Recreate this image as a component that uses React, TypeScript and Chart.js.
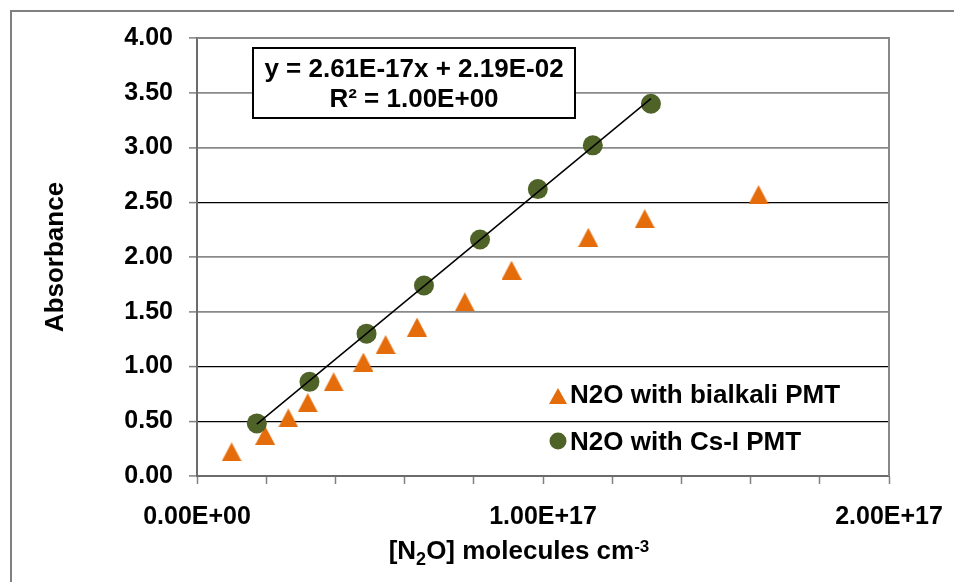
import React, { useEffect, useRef } from 'react';
import { Chart, registerables } from 'chart.js';

Chart.register(...registerables);

// ---- data ----
const bialkaliX = [1.0e16, 1.97e16, 2.64e16, 3.2e16, 3.95e16, 4.81e16, 5.45e16, 6.36e16, 7.74e16, 9.09e16, 1.131e17, 1.294e17, 1.623e17];
const bialkaliY = [0.22, 0.37, 0.53, 0.67, 0.86, 1.04, 1.2, 1.36, 1.59, 1.88, 2.18, 2.35, 2.57];
const csiX = [1.73e16, 3.25e16, 4.9e16, 6.56e16, 8.18e16, 9.85e16, 1.144e17, 1.312e17];
const csiY = [0.48, 0.86, 1.3, 1.74, 2.16, 2.62, 3.02, 3.4];
const seriesLabels = ['N2O with bialkali PMT', 'N2O with Cs-I PMT'];
const trendSlope = 2.61e-17;
const trendIntercept = 2.19e-2;
const equationLines = ['y = 2.61E-17x + 2.19E-02', 'R\u00B2 = 1.00E+00'];
const yTitle = 'Absorbance';
const xTitleParts: [string, 'n' | 'sub' | 'sup'][] = [['[N', 'n'], ['2', 'sub'], ['O] molecules cm', 'n'], ['-3', 'sup']];
const xMin = 0, xMax = 2e17, xStep = 2e16, xLabelStep = 1e17;
const yMin = 0, yMax = 4, yStep = 0.5;
const darkGridValues = [0.5, 1.0, 2.5];

// ---- style ----
const ORANGE = '#E46C0A';
const GREEN = '#4F6228';
const FAMILY = "'Liberation Sans', Arial, sans-serif";

function sci(v: number): string {
  if (v === 0) return '0.00E+00';
  const e = Math.floor(Math.log10(Math.abs(v)) + 1e-9);
  const m = v / Math.pow(10, e);
  return m.toFixed(2) + 'E' + (e >= 0 ? '+' : '-') + String(Math.abs(e)).padStart(2, '0');
}

function makeTriangle(w: number, h: number, color: string) {
  const c = document.createElement('canvas');
  c.width = w;
  c.height = h;
  const g = c.getContext('2d')!;
  g.fillStyle = color;
  g.beginPath();
  g.moveTo(w / 2, 0);
  g.lineTo(w, h);
  g.lineTo(0, h);
  g.closePath();
  g.fill();
  return c;
}

export default function App() {
  const ref = useRef<HTMLCanvasElement>(null);

  useEffect(() => {
    const canvas = ref.current!;
    const tri = makeTriangle(20, 19, ORANGE);
    const triSmall = makeTriangle(18, 16, ORANGE);
    const trendX = [Math.min(...csiX), Math.max(...csiX)];

    const decor = {
      id: 'decor',
      beforeDraw(chart: any) {
        const ctx = chart.ctx;
        ctx.save();
        ctx.strokeStyle = '#808080';
        ctx.lineWidth = 2;
        ctx.strokeRect(11, 11, 2000, 2000);
        ctx.restore();
      },
      beforeDatasetsDraw(chart: any) {
        const { ctx, chartArea: a } = chart;
        ctx.save();
        ctx.strokeStyle = '#888888';
        ctx.lineWidth = 2;
        ctx.beginPath();
        ctx.moveTo(a.left, a.top);
        ctx.lineTo(a.right, a.top);
        ctx.lineTo(a.right, a.bottom);
        ctx.stroke();
        ctx.restore();
      },
      afterDatasetsDraw(chart: any) {
        const ctx = chart.ctx;
        ctx.save();
        // equation box
        ctx.fillStyle = '#fff';
        ctx.fillRect(253, 48, 322, 70);
        ctx.strokeStyle = '#000';
        ctx.lineWidth = 2;
        ctx.strokeRect(253, 48, 322, 70);
        ctx.fillStyle = '#000';
        ctx.font = `bold 26px ${FAMILY}`;
        ctx.textAlign = 'center';
        ctx.textBaseline = 'alphabetic';
        ctx.fillText(equationLines[0], 414, 77);
        ctx.fillText(equationLines[1], 414, 107);

        // legend
        ctx.drawImage(triSmall, 558 - 9, 396 - 8);
        ctx.fillStyle = GREEN;
        ctx.beginPath();
        ctx.arc(558, 441, 8.5, 0, Math.PI * 2);
        ctx.fill();
        ctx.fillStyle = '#000';
        ctx.textAlign = 'left';
        ctx.fillText(seriesLabels[0], 570, 403);
        ctx.fillText(seriesLabels[1], 570, 450);

        // x title with sub/superscript
        const fonts: Record<string, string> = {
          n: `bold 26px ${FAMILY}`,
          sub: `bold 18px ${FAMILY}`,
          sup: `bold 17px ${FAMILY}`,
        };
        const shift: Record<string, number> = { n: 0, sub: 6, sup: -7 };
        let total = 0;
        const widths = xTitleParts.map(([t, k]) => {
          ctx.font = fonts[k];
          const w = ctx.measureText(t).width;
          total += w;
          return w;
        });
        let x = 519 - total / 2;
        const base = 559;
        xTitleParts.forEach(([t, k], i) => {
          ctx.font = fonts[k];
          ctx.fillText(t, x, base + shift[k]);
          x += widths[i];
        });
        ctx.restore();
      },
    };

    const tickFont = { family: FAMILY, size: 25, weight: 'bold' as const };

    const chart = new Chart(canvas, {
      type: 'scatter',
      data: {
        datasets: [
          {
            label: 'Linear fit',
            data: trendX.map((x) => ({ x, y: trendSlope * x + trendIntercept })),
            showLine: true,
            borderColor: '#000',
            borderWidth: 1.5,
            pointRadius: 0,
            order: 0,
          },
          {
            label: seriesLabels[1],
            data: csiX.map((x, i) => ({ x, y: csiY[i] })),
            pointStyle: 'circle',
            pointRadius: 10,
            backgroundColor: GREEN,
            borderColor: GREEN,
            borderWidth: 0,
            order: 1,
          },
          {
            label: seriesLabels[0],
            data: bialkaliX.map((x, i) => ({ x, y: bialkaliY[i] })),
            pointStyle: tri as any,
            pointRadius: 10,
            backgroundColor: ORANGE,
            borderColor: ORANGE,
            order: 2,
          },
        ],
      },
      options: {
        responsive: true,
        maintainAspectRatio: false,
        animation: false,
        layout: { padding: { top: 38, right: 65, bottom: 0, left: 0 } },
        plugins: {
          legend: { display: false },
          tooltip: { enabled: false },
          title: { display: false },
        },
        scales: {
          x: {
            type: 'linear',
            min: xMin,
            max: xMax,
            ticks: {
              stepSize: xStep,
              autoSkip: false,
              maxRotation: 0,
              font: tickFont,
              color: '#000',
              padding: 18,
              callback: (v: any) => {
                const r = Number(v) / xLabelStep;
                return Math.abs(r - Math.round(r)) < 1e-6 ? sci(Number(v)) : '';
              },
            },
            grid: {
              drawOnChartArea: false,
              drawTicks: true,
              tickLength: 8,
              tickColor: '#808080',
              tickWidth: 1.5,
            },
            border: { display: true, color: '#6b6b6b', width: 2 },
            afterFit: (s: any) => {
              s.height = 106;
              s.paddingLeft = 0;
              s.paddingRight = 0;
            },
          },
          y: {
            type: 'linear',
            min: yMin,
            max: yMax,
            ticks: {
              stepSize: yStep,
              font: tickFont,
              color: '#000',
              padding: 16,
              callback: (v: any) => Number(v).toFixed(2),
            },
            grid: {
              color: (c: any) => {
                const v = c.tick ? c.tick.value : -1;
                return darkGridValues.some((d) => Math.abs(d - v) < 1e-9) ? '#000' : '#8a8a8a';
              },
              lineWidth: (c: any) => {
                const v = c.tick ? c.tick.value : -1;
                return darkGridValues.some((d) => Math.abs(d - v) < 1e-9) ? 1.2 : 1.8;
              },
              tickLength: 8,
              tickColor: '#808080',
              tickWidth: 1.5,
            },
            border: { display: true, color: '#6b6b6b', width: 2 },
            title: {
              display: true,
              text: yTitle,
              color: '#000',
              font: { family: FAMILY, size: 26, weight: 'bold' },
              padding: { top: 40, bottom: 0 },
            },
            afterFit: (s: any) => {
              s.width = 197;
              s.paddingTop = 0;
              s.paddingBottom = 0;
            },
          },
        },
      },
      plugins: [decor],
    } as any);

    return () => chart.destroy();
  }, []);

  return (
    <div style={{ position: 'absolute', left: 0, top: 0, width: 954, height: 582 }}>
      <canvas ref={ref} />
    </div>
  );
}
